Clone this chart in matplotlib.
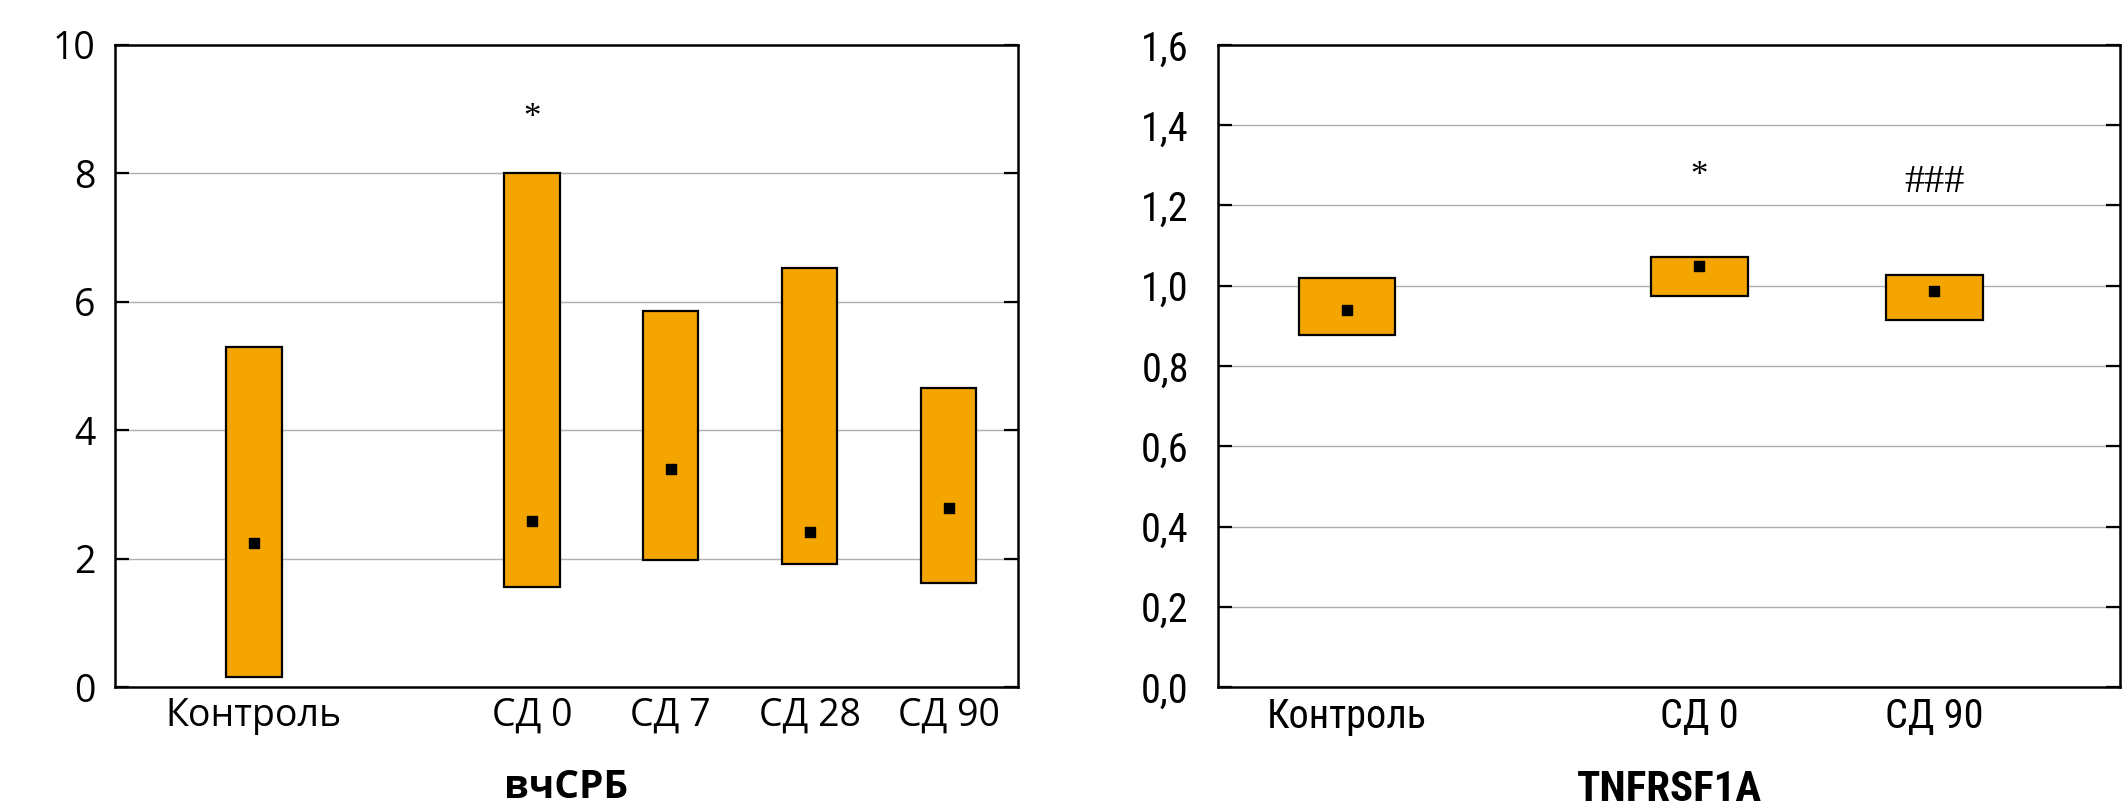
import matplotlib
matplotlib.use('Agg')
import matplotlib.pyplot as plt
from matplotlib import font_manager
from matplotlib.ticker import FuncFormatter

# left panel: вчСРБ
crp_groups = ['Контроль', 'СД 0', 'СД 7', 'СД 28', 'СД 90']
crp_pos = [0, 2, 3, 4, 5]
crp_low = [0.16, 1.56, 1.98, 1.92, 1.62]
crp_high = [5.29, 8.00, 5.85, 6.52, 4.65]
crp_median = [2.25, 2.59, 3.39, 2.41, 2.79]

# right panel: TNFRSF1A
tnf_groups = ['Контроль', 'СД 0', 'СД 90']
tnf_pos = [0, 1.5, 2.5]
tnf_low = [0.878, 0.975, 0.914]
tnf_high = [1.019, 1.071, 1.027]
tnf_median = [0.939, 1.048, 0.986]

ORANGE = '#f5a500'

available = {f.name for f in font_manager.fontManager.ttflist}


def pick(*names):
    for n in names:
        if n in available:
            return n
    return 'DejaVu Sans'


regular = pick('Open Sans', 'Noto Sans', 'DejaVu Sans')
narrow = pick('Liberation Sans Narrow', 'Roboto Condensed', 'Open Sans Condensed', 'Noto Sans')
serif = pick('Liberation Serif', 'DejaVu Serif')

W, H = 2126, 811
fig = plt.figure(figsize=(W / 100, H / 100), dpi=100)


def panel(rect, pos, low, high, med, groups, width, xlim, ylim, yticks, fmt,
          font, size, ypad, xlabel, xlsize, labelpad):
    ax = fig.add_axes(rect)
    heights = [h - l for l, h in zip(low, high)]
    ax.bar(pos, heights, bottom=low, width=width, color=ORANGE,
           edgecolor='black', linewidth=1.6, zorder=3)
    ax.scatter(pos, med, marker='s', s=60, color='black', zorder=4)
    ax.set_xlim(*xlim)
    ax.set_ylim(*ylim)
    ax.set_yticks(yticks)
    ax.yaxis.set_major_formatter(FuncFormatter(fmt))
    ax.set_xticks(pos)
    ax.set_xticklabels(groups)
    for yt in yticks[1:-1]:
        ax.axhline(yt, color='#b0b0b0', linewidth=1.0, zorder=1)
    ax.tick_params(axis='y', direction='in', length=10, width=1.6,
                   left=True, right=True, labelsize=size, pad=ypad)
    ax.tick_params(axis='x', length=0, labelsize=size, pad=7)
    for lab in ax.get_xticklabels() + ax.get_yticklabels():
        lab.set_fontfamily(font)
    for s in ax.spines.values():
        s.set_linewidth(1.8)
    ax.set_xlabel(xlabel, fontsize=xlsize, fontweight='bold', family=font,
                  labelpad=labelpad)
    return ax


ax1 = panel([115 / W, 1 - 687 / H, 903 / W, 642 / H], crp_pos, crp_low, crp_high,
            crp_median, crp_groups, 0.40, (-1, 5.5), (0, 10), [0, 2, 4, 6, 8, 10],
            lambda v, p: f'{v:.0f}', regular, 27, 14, 'вчСРБ', 28, 24)
ax1.text(2, 8.85, '*', ha='center', va='center', fontsize=25, family=serif)

ax2 = panel([1218 / W, 1 - 687 / H, 902 / W, 642 / H], tnf_pos, tnf_low, tnf_high,
            tnf_median, tnf_groups, 0.41, (-0.549, 3.29), (0, 1.6),
            [0, 0.2, 0.4, 0.6, 0.8, 1.0, 1.2, 1.4, 1.6],
            lambda v, p: f'{v:.1f}'.replace('.', ','), narrow, 29, 21,
            'TNFRSF1A', 31, 24)
ax2.text(1.5, 1.272, '*', ha='center', va='center', fontsize=25, family=serif)
ax2.text(2.5, 1.258, '###', ha='center', va='center', fontsize=29, family=serif)

fig.savefig('out.png', dpi=100)
